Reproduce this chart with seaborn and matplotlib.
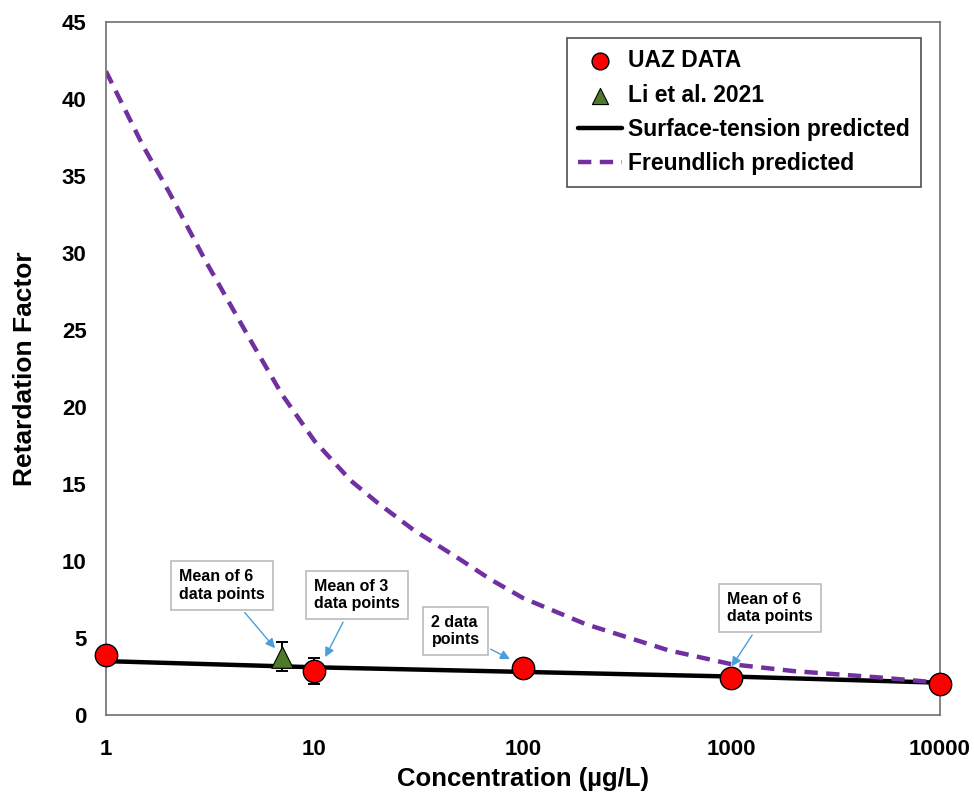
import matplotlib
matplotlib.use("Agg")
import matplotlib.pyplot as plt
import seaborn as sns
import pandas as pd

sns.set_theme(style="white")
plt.rcParams["font.family"] = ["Liberation Sans", "DejaVu Sans"]
plt.rcParams["font.weight"] = "bold"
plt.rcParams["text.color"] = "black"
plt.rcParams["axes.labelcolor"] = "black"
plt.rcParams["xtick.color"] = "black"
plt.rcParams["ytick.color"] = "black"

# Measured retardation factors (UAZ columns)
uaz_conc = [1, 10, 100, 1000, 10000]
uaz_rf = [3.9, 2.85, 3.05, 2.4, 2.0]
uaz_err = [0.0, 0.85, 0.0, 0.0, 0.0]

# Literature value
li_conc = [7]
li_rf = [3.8]
li_err = [0.97]

# Surface-tension based prediction
st_conc = [1, 10, 100, 1000, 10000]
st_rf = [3.5, 3.1, 2.8, 2.5, 2.1]

# Freundlich based prediction
fr_conc = [1, 1.5, 2, 3, 5, 7, 10, 15, 20, 30, 50, 70, 100, 200, 500, 1000, 2000, 5000, 10000]
fr_rf = [41.8, 37.0, 34.0, 29.5, 24.2, 20.8, 17.8, 15.2, 13.8, 12.0, 10.1, 8.8, 7.6,
         5.9, 4.2, 3.3, 2.85, 2.45, 2.1]

x_ticks = [1, 10, 100, 1000, 10000]
x_tick_labels = ["1", "10", "100", "1000", "10000"]
y_ticks = [0, 5, 10, 15, 20, 25, 30, 35, 40, 45]

fig = plt.figure(figsize=(9.74, 7.95), dpi=100)
ax = fig.add_axes([0.1088, 0.1006, 0.8562, 0.8717])

st_df = pd.DataFrame({"c": st_conc, "rf": st_rf})
fr_df = pd.DataFrame({"c": fr_conc, "rf": fr_rf})
uaz_df = pd.DataFrame({"c": uaz_conc, "rf": uaz_rf})
li_df = pd.DataFrame({"c": li_conc, "rf": li_rf})

sns.lineplot(data=st_df, x="c", y="rf", ax=ax, color="black", lw=3.2,
             label="Surface-tension predicted", zorder=2)
sns.lineplot(data=fr_df, x="c", y="rf", ax=ax, color="#7030a0", lw=3.2,
             label="Freundlich predicted", zorder=2)
ax.lines[-1].set_dashes([3.0, 1.9])

ax.errorbar(uaz_conc, uaz_rf, yerr=uaz_err, fmt="none", ecolor="black",
            elinewidth=1.4, capsize=4, capthick=1.4, zorder=3)
ax.errorbar(li_conc, li_rf, yerr=li_err, fmt="none", ecolor="black",
            elinewidth=1.4, capsize=4, capthick=1.4, zorder=3)

sns.scatterplot(data=uaz_df, x="c", y="rf", ax=ax, marker="o", s=260,
                color="#ff0000", edgecolor="black", linewidth=1.0,
                label="UAZ DATA", zorder=4, clip_on=False)
sns.scatterplot(data=li_df, x="c", y="rf", ax=ax, marker="^", s=240,
                color="#4e7a2a", edgecolor="black", linewidth=0.8,
                label="Li et al. 2021", zorder=4)

ax.set_xscale("log")
ax.set_xlim(1, 10000)
ax.set_ylim(0, 45)
ax.set_xticks(x_ticks)
ax.set_xticklabels(x_tick_labels)
ax.set_yticks(y_ticks)
ax.minorticks_off()
ax.tick_params(axis="both", direction="in", length=6, width=1, color="#555555",
               labelsize=16, pad=14)
ax.tick_params(axis="x", pad=17)
for lab in ax.get_xticklabels() + ax.get_yticklabels():
    lab.set_fontweight("bold")
for sp in ax.spines.values():
    sp.set_color("#707070")
    sp.set_linewidth(1.2)

ax.set_xlabel("Concentration (µg/L)", fontsize=18.5, fontweight="bold", labelpad=5)
ax.set_ylabel("Retardation Factor", fontsize=19, fontweight="bold", labelpad=18)

handles, labels = ax.get_legend_handles_labels()
order = [labels.index(n) for n in ["UAZ DATA", "Li et al. 2021",
                                   "Surface-tension predicted", "Freundlich predicted"]]
leg = ax.legend([handles[i] for i in order], [labels[i] for i in order],
                loc="upper right", bbox_to_anchor=(0.991, 0.994),
                prop={"weight": "bold", "size": 16.5}, frameon=True, fancybox=False,
                edgecolor="#222222", handlelength=1.9, handletextpad=0.25,
                labelspacing=0.5, borderpad=0.5, markerscale=0.75)
leg.get_frame().set_linewidth(1.2)

# Callout boxes with arrows
box = dict(boxstyle="square,pad=0.5", fc="white", ec="#bbbbbb", lw=1.2)
arrow = dict(arrowstyle="-|>", color="#4a9fdb", lw=1.0, mutation_scale=14)
notes = [
    ("Mean of 6\ndata points", (6.6, 4.2), (3.6, 8.4)),
    ("Mean of 3\ndata points", (11.1, 3.6), (16.0, 7.8)),
    ("2 data\npoints", (89, 3.55), (47.5, 5.45)),
    ("Mean of 6\ndata points", (985, 3.0), (1530, 6.95)),
]
for text, xy, xytext in notes:
    ax.annotate(text, xy=xy, xytext=xytext, fontsize=11.5, fontweight="bold",
                ha="center", va="center", multialignment="left",
                bbox=box, arrowprops=arrow, zorder=5)

fig.savefig("out.png", dpi=100)
